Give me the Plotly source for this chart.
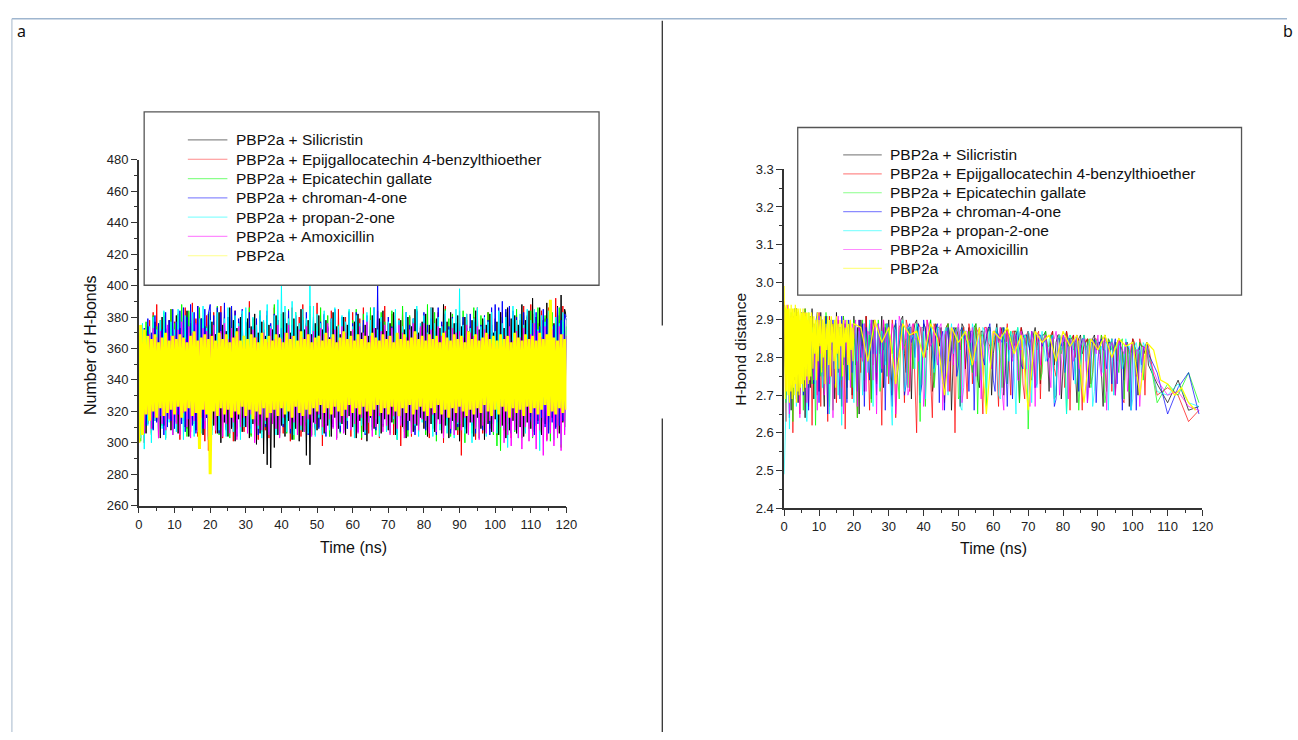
import plotly.graph_objects as go

W, H = 1298, 740
FONT = "Liberation Sans, Arial, sans-serif"


def X(px):
    return px / W


def Y(py):
    return 1 - py / H


# ---------------- data ----------------
series_names = [
    "PBP2a + Silicristin",
    "PBP2a + Epijgallocatechin 4-benzylthioether",
    "PBP2a + Epicatechin gallate",
    "PBP2a + chroman-4-one",
    "PBP2a + propan-2-one",
    "PBP2a + Amoxicillin",
    "PBP2a",
]
series_colors = ["#000000", "#ff0000", "#00ff00", "#0000ff", "#00ffff", "#ff00ff", "#ffff00"]

# panel a : number of H-bonds vs time (ns), sampled every 0.5 ns
time_a = [i * 0.5 for i in range(241)]

hbonds_silicristin = [
    304, 370, 312, 361, 306, 374, 318, 366, 309, 377, 314, 369, 303, 380, 311, 372, 317, 378, 308, 365,
    313, 381, 306, 373, 319, 368, 310, 384, 304, 376, 315, 370, 308, 387, 312, 379, 305, 374, 316, 382,
    302, 377, 311, 369, 306, 383, 300, 375, 313, 371, 304, 386, 309, 378, 301, 373, 315, 380, 307, 367,
    310, 379, 303, 374, 312, 382, 299, 370, 306, 377, 293, 368, 286, 375, 284, 372, 297, 381, 305, 369,
    311, 383, 304, 376, 314, 370, 302, 379, 309, 374, 301, 385, 307, 372, 292, 378, 286, 369, 313, 376,
    308, 381, 315, 372, 306, 378, 311, 367, 304, 383, 316, 374, 309, 369, 312, 380, 305, 375, 317, 371,
    310, 377, 303, 382, 314, 370, 307, 375, 301, 368, 316, 381, 309, 373, 312, 379, 306, 384, 315, 371,
    308, 376, 313, 383, 305, 369, 317, 378, 310, 372, 303, 380, 314, 374, 307, 385, 311, 370, 316, 377,
    309, 382, 304, 375, 312, 386, 307, 379, 315, 373, 306, 388, 311, 377, 303, 383, 314, 376, 308, 381,
    301, 374, 310, 380, 306, 371, 313, 378, 304, 384, 316, 372, 309, 379, 302, 375, 312, 382, 307, 370,
    315, 377, 305, 383, 311, 373, 303, 386, 308, 379, 314, 381, 306, 375, 310, 388, 304, 378, 313, 384,
    309, 392, 307, 380, 314, 386, 305, 378, 312, 389, 308, 383, 316, 376, 310, 387, 306, 394, 313, 385,
    380,
]
hbonds_epigallo = [
    356, 309, 366, 300, 371, 312, 378, 306, 383, 314, 388, 303, 376, 311, 381, 308, 373, 316, 385, 305,
    377, 313, 382, 302, 370, 318, 386, 309, 374, 307, 389, 312, 379, 304, 384, 310, 372, 301, 381, 295,
    375, 312, 383, 306, 378, 315, 387, 303, 371, 310, 380, 316, 374, 301, 384, 309, 377, 313, 382, 307,
    373, 318, 390, 305, 379, 311, 367, 302, 384, 314, 376, 308, 381, 303, 370, 315, 386, 309, 378, 312,
    372, 306, 383, 313, 377, 301, 386, 310, 374, 316, 380, 304, 388, 311, 375, 307, 382, 317, 371, 305,
    389, 310, 376, 298, 381, 314, 373, 307, 384, 312, 378, 303, 385, 316, 370, 308, 380, 311, 375, 304,
    383, 315, 372, 309, 379, 302, 386, 313, 374, 306, 381, 317, 377, 310, 384, 303, 371, 312, 387, 308,
    376, 314, 382, 305, 373, 311, 379, 298, 385, 309, 372, 316, 380, 304, 377, 312, 383, 307, 369, 315,
    381, 310, 374, 303, 386, 313, 378, 306, 383, 317, 375, 300, 387, 311, 372, 308, 380, 314, 376, 305,
    384, 292, 377, 312, 382, 307, 374, 315, 380, 302, 386, 310, 371, 306, 378, 313, 383, 309, 375, 316,
    379, 305, 366, 311, 383, 308, 372, 314, 385, 303, 377, 310, 381, 306, 374, 316, 387, 309, 380, 312,
    388, 304, 382, 311, 376, 307, 384, 315, 379, 302, 386, 313, 373, 309, 392, 306, 381, 314, 387, 310,
    379,
]
hbonds_epicatechin = [
    366, 301, 372, 309, 377, 313, 369, 305, 381, 316, 374, 307, 378, 311, 383, 303, 370, 317, 385, 306,
    376, 321, 382, 309, 388, 314, 373, 304, 384, 312, 378, 318, 371, 307, 386, 310, 379, 315, 374, 302,
    383, 308, 377, 316, 387, 305, 372, 313, 380, 309, 375, 303, 385, 317, 378, 311, 373, 306, 382, 314,
    376, 310, 386, 304, 379, 312, 371, 318, 384, 307, 377, 313, 381, 305, 374, 316, 388, 309, 373, 304,
    382, 311, 375, 306, 385, 314, 378, 302, 383, 309, 372, 316, 380, 307, 376, 312, 387, 305, 379, 310,
    374, 315, 386, 308, 371, 313, 381, 304, 377, 317, 383, 310, 375, 306, 380, 314, 372, 309, 384, 312,
    378, 307, 385, 316, 373, 303, 382, 311, 376, 314, 386, 308, 379, 305, 374, 313, 383, 310, 377, 316,
    371, 306, 384, 312, 378, 302, 375, 315, 387, 309, 372, 304, 381, 313, 376, 308, 385, 311, 373, 317,
    380, 305, 388, 313, 374, 309, 383, 301, 377, 316, 372, 307, 385, 312, 379, 304, 382, 314, 376, 308,
    373, 311, 384, 300, 378, 315, 372, 306, 386, 310, 375, 303, 381, 313, 374, 307, 383, 312, 371, 305,
    377, 298, 372, 295, 380, 309, 383, 305, 374, 313, 378, 307, 385, 311, 372, 303, 381, 316, 376, 309,
    384, 303, 378, 312, 386, 306, 373, 314, 381, 308, 375, 301, 383, 312, 379, 305, 386, 297, 377, 310,
    374,
]
hbonds_chromanone = [
    362, 368, 306, 373, 311, 379, 315, 370, 308, 381, 313, 376, 317, 372, 305, 383, 310, 378, 314, 385,
    309, 377, 318, 384, 312, 386, 307, 380, 315, 388, 311, 383, 306, 387, 314, 379, 309, 385, 316, 382,
    388, 312, 381, 317, 386, 306, 383, 313, 389, 308, 380, 315, 387, 310, 384, 304, 379, 316, 385, 311,
    377, 315, 383, 309, 374, 313, 379, 305, 381, 318, 372, 310, 384, 307, 376, 314, 382, 311, 378, 306,
    373, 310, 379, 316, 384, 306, 375, 313, 381, 308, 370, 315, 378, 311, 383, 305, 374, 317, 380, 309,
    371, 309, 377, 318, 382, 304, 374, 312, 379, 310, 385, 316, 372, 307, 380, 313, 376, 309, 383, 315,
    376, 314, 383, 307, 370, 312, 378, 305, 381, 316, 374, 310, 386, 308, 400, 313, 377, 311, 372, 317,
    380, 310, 374, 315, 381, 306, 377, 316, 372, 311, 383, 308, 375, 313, 379, 305, 384, 312, 371, 316,
    383, 308, 375, 314, 379, 317, 371, 305, 386, 312, 377, 309, 382, 315, 374, 306, 380, 313, 376, 310,
    376, 318, 380, 309, 373, 315, 382, 311, 377, 306, 384, 313, 375, 308, 381, 316, 378, 305, 386, 312,
    388, 313, 386, 316, 390, 309, 385, 312, 387, 306, 384, 314, 380, 309, 378, 315, 383, 307, 381, 311,
    317, 376, 305, 383, 312, 374, 316, 385, 310, 379, 306, 382, 313, 375, 309, 386, 311, 378, 314, 382,
    378,
]
hbonds_propanone = [
    370, 303, 376, 296, 368, 311, 374, 300, 380, 314, 372, 306, 378, 309, 384, 302, 371, 313, 377, 305,
    372, 307, 385, 312, 376, 302, 381, 315, 370, 309, 383, 304, 375, 311, 379, 306, 387, 314, 373, 308,
    378, 305, 374, 313, 383, 308, 369, 316, 379, 304, 386, 311, 373, 307, 381, 314, 376, 302, 384, 310,
    386, 311, 373, 306, 380, 317, 375, 309, 384, 303, 378, 312, 388, 307, 374, 315, 381, 305, 391, 310,
    401, 312, 387, 307, 379, 314, 390, 305, 383, 311, 376, 308, 385, 313, 379, 306, 400, 310, 387, 304,
    382, 316, 376, 305, 384, 312, 371, 308, 379, 315, 386, 303, 374, 311, 381, 307, 377, 314, 385, 309,
    374, 303, 381, 317, 376, 311, 369, 306, 383, 313, 378, 308, 386, 315, 372, 304, 380, 312, 375, 307,
    377, 309, 372, 315, 385, 302, 378, 312, 374, 307, 383, 314, 371, 306, 379, 311, 387, 304, 376, 313,
    381, 316, 370, 310, 386, 304, 376, 313, 380, 308, 374, 315, 384, 306, 372, 311, 379, 303, 385, 312,
    398, 312, 375, 306, 382, 315, 373, 300, 379, 311, 386, 307, 374, 313, 380, 304, 377, 316, 383, 309,
    371, 306, 384, 314, 376, 309, 380, 297, 373, 315, 387, 308, 378, 303, 382, 312, 375, 306, 385, 311,
    378, 304, 385, 311, 372, 295, 381, 313, 377, 306, 384, 310, 374, 302, 380, 315, 376, 299, 383, 308,
    379,
]
hbonds_amoxicillin = [
    352, 314, 364, 306, 360, 318, 369, 309, 373, 316, 367, 303, 371, 312, 362, 308, 375, 315, 368, 305,
    368, 312, 372, 305, 377, 319, 366, 310, 374, 303, 370, 314, 376, 307, 365, 316, 373, 309, 371, 304,
    369, 315, 375, 308, 363, 317, 371, 304, 376, 312, 366, 306, 373, 313, 368, 302, 374, 310, 361, 316,
    359, 306, 355, 318, 372, 300, 367, 311, 358, 308, 370, 314, 364, 305, 373, 312, 366, 309, 375, 303,
    366, 316, 370, 352, 375, 309, 368, 313, 356, 305, 372, 311, 367, 307, 374, 315, 369, 304, 371, 312,
    364, 318, 373, 310, 369, 307, 376, 315, 367, 309, 372, 302, 365, 313, 374, 306, 370, 316, 366, 308,
    372, 312, 366, 306, 374, 316, 370, 308, 377, 313, 368, 304, 373, 310, 365, 317, 371, 307, 375, 311,
    368, 305, 373, 317, 365, 309, 375, 311, 370, 303, 367, 314, 372, 306, 376, 312, 369, 308, 374, 315,
    376, 314, 369, 306, 372, 318, 366, 307, 374, 312, 368, 303, 371, 316, 365, 309, 373, 305, 370, 313,
    371, 308, 367, 316, 375, 305, 370, 313, 368, 309, 374, 302, 366, 311, 372, 306, 369, 314, 363, 307,
    360, 350, 355, 310, 358, 300, 368, 305, 374, 298, 365, 308, 371, 303, 367, 296, 373, 310, 366, 301,
    369, 304, 376, 296, 371, 308, 367, 292, 374, 301, 368, 306, 372, 298, 365, 303, 374, 295, 369, 305,
    368,
]
hbonds_pbp2a = [
    300, 375, 305, 372, 318, 368, 314, 366, 320, 369, 316, 364, 322, 367, 317, 370, 319, 365, 321, 368,
    318, 366, 323, 369, 316, 367, 320, 364, 322, 368, 317, 371, 319, 365, 296, 367, 321, 369, 318, 366,
    280, 368, 320, 365, 317, 370, 322, 366, 318, 369, 321, 364, 316, 367, 320, 371, 318, 365, 323, 368,
    317, 366, 321, 369, 315, 367, 320, 364, 318, 370, 322, 366, 316, 368, 319, 365, 321, 369, 317, 367,
    322, 364, 318, 370, 320, 366, 316, 368, 323, 365, 319, 371, 317, 366, 321, 369, 318, 364, 322, 367,
    320, 368, 324, 365, 319, 370, 322, 366, 318, 369, 323, 364, 320, 367, 317, 371, 321, 366, 324, 368,
    319, 365, 322, 369, 318, 366, 323, 368, 320, 364, 317, 370, 321, 367, 324, 365, 319, 369, 322, 366,
    318, 368, 323, 364, 320, 370, 317, 366, 322, 369, 319, 365, 324, 367, 318, 371, 321, 366, 323, 368,
    320, 365, 317, 369, 322, 366, 319, 368, 324, 364, 318, 370, 321, 367, 316, 365, 322, 369, 319, 366,
    323, 368, 320, 364, 317, 371, 321, 366, 318, 369, 322, 365, 319, 367, 324, 370, 320, 366, 317, 368,
    321, 365, 318, 369, 323, 366, 320, 368, 316, 364, 322, 370, 319, 367, 321, 365, 317, 369, 323, 366,
    319, 368, 322, 365, 318, 370, 321, 366, 324, 369, 317, 391, 320, 367, 318, 365, 322, 369, 319, 366,
    321,
]

# panel b : H-bond distance vs time (ns)
# each complex: 61 values (0-30 ns, every 0.5 ns), 74 values (31-104 ns, whole ns),
# 5 tail values (107, 110, 113, 116, 119 ns); plus 74 values at the half ns 31.5-104.5
time_b = ([i * 0.5 for i in range(61)] + [31 + 0.5 * i for i in range(148)]
          + [107, 110, 113, 116, 119])
time_b_pbp2a = ([round(i * 0.1, 1) for i in range(81)]
                + [8.25 + 0.25 * i for i in range(48)]
                + [22 + 2 * i for i in range(49)])

dist_silicristin = [
    2.94, 2.70, 2.92, 2.78, 2.66, 2.91, 2.74, 2.93, 2.68, 2.88,
    2.75, 2.92, 2.64, 2.90, 2.80, 2.72, 2.93, 2.69, 2.89, 2.84,
    2.71, 2.92, 2.77, 2.67, 2.91, 2.82, 2.73, 2.90, 2.85, 2.69,
    2.92, 2.76, 2.88, 2.67, 2.91, 2.81, 2.72, 2.89, 2.86, 2.70,
    2.91, 2.78, 2.88, 2.65, 2.90, 2.83, 2.74, 2.91, 2.79, 2.87,
    2.69, 2.90, 2.84, 2.73, 2.89, 2.81, 2.91, 2.72, 2.88, 2.85,
    2.90,
    2.70, 2.89, 2.83, 2.91, 2.76, 2.88, 2.86, 2.90, 2.68, 2.89,
    2.82, 2.90, 2.74, 2.87, 2.88, 2.80, 2.89, 2.66, 2.88, 2.86,
    2.89, 2.77, 2.88, 2.84, 2.89, 2.72, 2.87, 2.85, 2.88, 2.81,
    2.89, 2.86, 2.70, 2.88, 2.84, 2.87, 2.79, 2.88, 2.85, 2.87,
    2.74, 2.88, 2.83, 2.86, 2.87, 2.71, 2.87, 2.84, 2.86, 2.78,
    2.87, 2.85, 2.86, 2.68, 2.86, 2.83, 2.85, 2.80, 2.86, 2.84,
    2.76, 2.86, 2.83, 2.85, 2.70, 2.85, 2.82, 2.84, 2.67, 2.85,
    2.79, 2.84, 2.83, 2.84,
    2.73, 2.68, 2.74, 2.66, 2.67,
]
dist_silicristin_half = [
    2.88, 2.75, 2.90, 2.81, 2.87, 2.69, 2.89, 2.84, 2.78, 2.88,
    2.85, 2.71, 2.89, 2.83, 2.76, 2.88, 2.86, 2.80, 2.87, 2.67,
    2.88, 2.84, 2.79, 2.88, 2.74, 2.87, 2.83, 2.88, 2.70, 2.86,
    2.84, 2.88, 2.77, 2.86, 2.82, 2.87, 2.68, 2.86, 2.83, 2.80,
    2.86, 2.84, 2.73, 2.86, 2.82, 2.85, 2.78, 2.86, 2.69, 2.85,
    2.83, 2.85, 2.76, 2.85, 2.81, 2.84, 2.72, 2.85, 2.82, 2.84,
    2.67, 2.84, 2.82, 2.79, 2.84, 2.83, 2.74, 2.84, 2.81, 2.83,
    2.70, 2.83, 2.81, 2.78,
]
dist_epigallo = [
    2.95, 2.63, 2.93, 2.72, 2.91, 2.60, 2.88, 2.77, 2.92, 2.65,
    2.90, 2.81, 2.93, 2.74, 2.67, 2.91, 2.62, 2.89, 2.81, 2.70,
    2.92, 2.67, 2.90, 2.78, 2.85, 2.63, 2.91, 2.75, 2.89, 2.80,
    2.68, 2.90, 2.83, 2.72, 2.91, 2.61, 2.88, 2.79, 2.90, 2.69,
    2.87, 2.83, 2.64, 2.90, 2.76, 2.89, 2.71, 2.91, 2.82, 2.66,
    2.89, 2.78, 2.90, 2.73, 2.88, 2.84, 2.62, 2.90, 2.79, 2.89,
    2.73,
    2.90, 2.64, 2.88, 2.84, 2.90, 2.71, 2.89, 2.60, 2.88, 2.82,
    2.90, 2.75, 2.89, 2.85, 2.87, 2.68, 2.89, 2.83, 2.60, 2.88,
    2.87, 2.80, 2.89, 2.73, 2.88, 2.86, 2.65, 2.88, 2.83, 2.87,
    2.76, 2.88, 2.85, 2.89, 2.70, 2.87, 2.84, 2.88, 2.69, 2.87,
    2.85, 2.72, 2.87, 2.84, 2.86, 2.80, 2.87, 2.75, 2.86, 2.83,
    2.87, 2.66, 2.86, 2.84, 2.79, 2.86, 2.85, 2.73, 2.85, 2.82,
    2.86, 2.78, 2.85, 2.71, 2.84, 2.85, 2.69, 2.84, 2.81, 2.85,
    2.75, 2.85, 2.83, 2.84,
    2.70, 2.72, 2.70, 2.63, 2.66,
]
dist_epigallo_half = [
    2.86, 2.79, 2.89, 2.68, 2.88, 2.83, 2.74, 2.89, 2.85, 2.80,
    2.88, 2.64, 2.87, 2.84, 2.78, 2.88, 2.71, 2.87, 2.85, 2.82,
    2.88, 2.69, 2.86, 2.83, 2.87, 2.76, 2.88, 2.84, 2.80, 2.87,
    2.67, 2.86, 2.84, 2.78, 2.87, 2.82, 2.86, 2.73, 2.86, 2.84,
    2.79, 2.86, 2.69, 2.85, 2.83, 2.86, 2.77, 2.85, 2.82, 2.72,
    2.85, 2.84, 2.80, 2.85, 2.66, 2.84, 2.83, 2.76, 2.85, 2.82,
    2.84, 2.71, 2.84, 2.82, 2.79, 2.84, 2.68, 2.83, 2.82, 2.84,
    2.77, 2.83, 2.70, 2.83,
]
dist_epicatechin = [
    2.93, 2.68, 2.91, 2.76, 2.92, 2.63, 2.89, 2.81, 2.92, 2.70,
    2.86, 2.66, 2.93, 2.79, 2.72, 2.91, 2.73, 2.89, 2.62, 2.91,
    2.83, 2.75, 2.90, 2.71, 2.92, 2.79, 2.67, 2.89, 2.66, 2.90,
    2.84, 2.77, 2.88, 2.74, 2.91, 2.81, 2.69, 2.89, 2.85, 2.72,
    2.90, 2.78, 2.64, 2.88, 2.83, 2.90, 2.74, 2.87, 2.80, 2.89,
    2.68, 2.88, 2.84, 2.76, 2.90, 2.71, 2.87, 2.82, 2.89, 2.75,
    2.88,
    2.81, 2.89, 2.69, 2.90, 2.85, 2.88, 2.77, 2.89, 2.63, 2.88,
    2.84, 2.90, 2.72, 2.88, 2.86, 2.79, 2.89, 2.84, 2.87, 2.69,
    2.88, 2.85, 2.87, 2.76, 2.89, 2.83, 2.86, 2.67, 2.88, 2.84,
    2.87, 2.80, 2.88, 2.73, 2.87, 2.85, 2.88, 2.78, 2.86, 2.61,
    2.87, 2.84, 2.86, 2.76, 2.87, 2.83, 2.85, 2.70, 2.86, 2.84,
    2.65, 2.86, 2.82, 2.85, 2.77, 2.86, 2.84, 2.72, 2.85, 2.83,
    2.86, 2.68, 2.85, 2.82, 2.84, 2.76, 2.85, 2.83, 2.71, 2.84,
    2.82, 2.84, 2.74, 2.83,
    2.68, 2.73, 2.70, 2.76, 2.68,
]
dist_epicatechin_half = [
    2.87, 2.76, 2.89, 2.83, 2.72, 2.88, 2.85, 2.80, 2.88, 2.67,
    2.87, 2.84, 2.78, 2.88, 2.74, 2.87, 2.85, 2.81, 2.88, 2.70,
    2.86, 2.84, 2.79, 2.87, 2.65, 2.86, 2.83, 2.87, 2.77, 2.86,
    2.84, 2.72, 2.86, 2.83, 2.80, 2.86, 2.68, 2.85, 2.84, 2.78,
    2.86, 2.82, 2.74, 2.85, 2.83, 2.86, 2.69, 2.85, 2.81, 2.84,
    2.77, 2.85, 2.83, 2.66, 2.84, 2.82, 2.85, 2.75, 2.84, 2.81,
    2.83, 2.72, 2.84, 2.82, 2.79, 2.84, 2.69, 2.83, 2.81, 2.83,
    2.76, 2.83, 2.80, 2.82,
]
dist_chromanone = [
    2.94, 2.74, 2.92, 2.64, 2.90, 2.83, 2.93, 2.69, 2.88, 2.79,
    2.92, 2.70, 2.85, 2.90, 2.66, 2.91, 2.80, 2.73, 2.89, 2.92,
    2.68, 2.90, 2.86, 2.75, 2.91, 2.65, 2.89, 2.82, 2.90, 2.73,
    2.88, 2.86, 2.69, 2.91, 2.78, 2.89, 2.68, 2.90, 2.82, 2.76,
    2.88, 2.86, 2.71, 2.90, 2.80, 2.89, 2.67, 2.88, 2.84, 2.74,
    2.90, 2.81, 2.87, 2.70, 2.89, 2.85, 2.76, 2.88, 2.66, 2.89,
    2.82,
    2.67, 2.90, 2.81, 2.88, 2.73, 2.89, 2.86, 2.87, 2.70, 2.90,
    2.83, 2.88, 2.77, 2.89, 2.85, 2.66, 2.88, 2.82, 2.87, 2.78,
    2.88, 2.86, 2.71, 2.87, 2.84, 2.88, 2.80, 2.86, 2.89, 2.74,
    2.87, 2.85, 2.88, 2.67, 2.86, 2.83, 2.87, 2.78, 2.86, 2.84,
    2.87, 2.72, 2.86, 2.83, 2.85, 2.80, 2.86, 2.69, 2.85, 2.86,
    2.81, 2.85, 2.74, 2.86, 2.83, 2.85, 2.68, 2.84, 2.85, 2.79,
    2.85, 2.82, 2.84, 2.73, 2.85, 2.83, 2.66, 2.84, 2.82, 2.84,
    2.66, 2.83, 2.82, 2.84,
    2.76, 2.65, 2.72, 2.76, 2.65,
]
dist_chromanone_half = [
    2.85, 2.78, 2.89, 2.70, 2.88, 2.84, 2.80, 2.89, 2.73, 2.87,
    2.86, 2.82, 2.88, 2.68, 2.87, 2.84, 2.79, 2.88, 2.75, 2.87,
    2.85, 2.81, 2.87, 2.66, 2.86, 2.84, 2.78, 2.87, 2.83, 2.71,
    2.86, 2.84, 2.80, 2.86, 2.69, 2.86, 2.83, 2.77, 2.86, 2.82,
    2.85, 2.73, 2.86, 2.84, 2.79, 2.85, 2.67, 2.85, 2.83, 2.76,
    2.85, 2.82, 2.84, 2.71, 2.85, 2.83, 2.79, 2.84, 2.68, 2.84,
    2.82, 2.77, 2.84, 2.83, 2.73, 2.84, 2.81, 2.83, 2.66, 2.83,
    2.82, 2.78, 2.83, 2.81,
]
dist_propanone = [
    2.49, 2.66, 2.93, 2.61, 2.91, 2.77, 2.92, 2.67, 2.86, 2.90,
    2.82, 2.71, 2.91, 2.63, 2.92, 2.76, 2.88, 2.84, 2.69, 2.89,
    2.91, 2.80, 2.72, 2.89, 2.85, 2.91, 2.65, 2.90, 2.82, 2.77,
    2.89, 2.70, 2.88, 2.62, 2.87, 2.84, 2.90, 2.74, 2.88, 2.86,
    2.68, 2.89, 2.79, 2.87, 2.82, 2.70, 2.89, 2.83, 2.76, 2.90,
    2.85, 2.67, 2.88, 2.81, 2.89, 2.72, 2.87, 2.86, 2.78, 2.89,
    2.80,
    2.62, 2.87, 2.84, 2.90, 2.74, 2.88, 2.86, 2.89, 2.68, 2.87,
    2.82, 2.89, 2.76, 2.88, 2.85, 2.87, 2.70, 2.89, 2.83, 2.88,
    2.66, 2.87, 2.84, 2.89, 2.79, 2.86, 2.88, 2.72, 2.87, 2.85,
    2.88, 2.69, 2.86, 2.84, 2.87, 2.77, 2.88, 2.82, 2.86, 2.87,
    2.68, 2.86, 2.84, 2.87, 2.79, 2.85, 2.86, 2.73, 2.86, 2.83,
    2.65, 2.86, 2.84, 2.85, 2.78, 2.86, 2.83, 2.85, 2.71, 2.85,
    2.83, 2.84, 2.66, 2.85, 2.82, 2.84, 2.77, 2.85, 2.83, 2.69,
    2.84, 2.82, 2.84, 2.83,
    2.71, 2.70, 2.73, 2.68, 2.67,
]
dist_propanone_half = [
    2.88, 2.80, 2.89, 2.71, 2.88, 2.85, 2.77, 2.88, 2.83, 2.69,
    2.88, 2.86, 2.80, 2.87, 2.73, 2.88, 2.84, 2.81, 2.87, 2.67,
    2.87, 2.85, 2.78, 2.87, 2.83, 2.74, 2.87, 2.84, 2.80, 2.86,
    2.70, 2.86, 2.84, 2.79, 2.86, 2.65, 2.86, 2.83, 2.77, 2.86,
    2.84, 2.72, 2.85, 2.83, 2.80, 2.85, 2.68, 2.85, 2.82, 2.77,
    2.85, 2.83, 2.73, 2.84, 2.82, 2.79, 2.84, 2.67, 2.84, 2.82,
    2.76, 2.84, 2.83, 2.70, 2.83, 2.81, 2.79, 2.83, 2.66, 2.83,
    2.81, 2.76, 2.83, 2.80,
]
dist_amoxicillin = [
    2.92, 2.72, 2.94, 2.65, 2.91, 2.80, 2.87, 2.71, 2.92, 2.64,
    2.90, 2.79, 2.92, 2.68, 2.85, 2.90, 2.83, 2.74, 2.89, 2.66,
    2.91, 2.81, 2.90, 2.70, 2.88, 2.86, 2.73, 2.90, 2.64, 2.88,
    2.83, 2.91, 2.75, 2.89, 2.65, 2.90, 2.82, 2.88, 2.72, 2.89,
    2.85, 2.90, 2.67, 2.88, 2.83, 2.79, 2.89, 2.71, 2.87, 2.86,
    2.90, 2.74, 2.88, 2.65, 2.89, 2.82, 2.77, 2.90, 2.84, 2.88,
    2.75,
    2.89, 2.65, 2.91, 2.82, 2.88, 2.72, 2.89, 2.85, 2.88, 2.67,
    2.90, 2.83, 2.88, 2.78, 2.89, 2.86, 2.71, 2.88, 2.84, 2.89,
    2.68, 2.87, 2.85, 2.88, 2.75, 2.87, 2.84, 2.88, 2.79, 2.87,
    2.86, 2.88, 2.66, 2.87, 2.84, 2.86, 2.74, 2.87, 2.85, 2.80,
    2.87, 2.67, 2.86, 2.84, 2.86, 2.77, 2.85, 2.87, 2.70, 2.86,
    2.84, 2.85, 2.79, 2.86, 2.83, 2.85, 2.68, 2.85, 2.84, 2.86,
    2.75, 2.85, 2.83, 2.84, 2.70, 2.85, 2.82, 2.84, 2.78, 2.84,
    2.82, 2.67, 2.83, 2.83,
    2.74, 2.70, 2.71, 2.67, 2.66,
]
dist_amoxicillin_half = [
    2.87, 2.77, 2.89, 2.84, 2.70, 2.88, 2.85, 2.79, 2.88, 2.73,
    2.87, 2.84, 2.81, 2.88, 2.66, 2.87, 2.85, 2.78, 2.87, 2.83,
    2.72, 2.87, 2.84, 2.80, 2.86, 2.69, 2.86, 2.83, 2.77, 2.86,
    2.84, 2.71, 2.86, 2.82, 2.79, 2.86, 2.74, 2.85, 2.83, 2.67,
    2.85, 2.84, 2.78, 2.85, 2.82, 2.72, 2.85, 2.83, 2.80, 2.85,
    2.69, 2.84, 2.82, 2.77, 2.84, 2.83, 2.73, 2.84, 2.81, 2.78,
    2.84, 2.66, 2.83, 2.82, 2.76, 2.83, 2.81, 2.71, 2.83, 2.80,
    2.82, 2.75, 2.82, 2.80,
]
dist_pbp2a = [
    2.99, 2.72, 2.94, 2.69, 2.93, 2.74, 2.94, 2.71, 2.92, 2.76,
    2.93, 2.70, 2.94, 2.73, 2.92, 2.68, 2.93, 2.75, 2.91, 2.71,
    2.94, 2.74, 2.92, 2.69, 2.93, 2.77, 2.91, 2.72, 2.93, 2.70,
    2.92, 2.75, 2.94, 2.73, 2.91, 2.68, 2.93, 2.76, 2.92, 2.71,
    2.93, 2.74, 2.91, 2.70, 2.92, 2.77, 2.93, 2.72, 2.91, 2.75,
    2.92, 2.73, 2.91, 2.76, 2.93, 2.71, 2.92, 2.78, 2.90, 2.74,
    2.92, 2.72, 2.91, 2.77, 2.92, 2.75, 2.90, 2.79, 2.92, 2.73,
    2.91, 2.76, 2.92, 2.74, 2.90, 2.78, 2.91, 2.75, 2.92, 2.80,
    2.90,
    2.77, 2.91, 2.81, 2.90, 2.74, 2.92, 2.79, 2.90, 2.83, 2.91,
    2.76, 2.90, 2.80, 2.91, 2.73, 2.89, 2.82, 2.91, 2.78, 2.90,
    2.75, 2.91, 2.84, 2.89, 2.79, 2.90, 2.72, 2.91, 2.81, 2.89,
    2.77, 2.90, 2.83, 2.89, 2.75, 2.90, 2.80, 2.88, 2.84, 2.90,
    2.78, 2.89, 2.74, 2.90, 2.82, 2.88, 2.79, 2.89,
    2.88, 2.79, 2.90, 2.84, 2.88, 2.73, 2.89, 2.86, 2.87, 2.80,
    2.89, 2.85, 2.70, 2.88, 2.84, 2.87, 2.78, 2.88, 2.65, 2.87,
    2.85, 2.88, 2.81, 2.86, 2.66, 2.87, 2.84, 2.86, 2.79, 2.87,
    2.83, 2.86, 2.68, 2.85, 2.82, 2.86, 2.80, 2.85, 2.83, 2.84,
    2.70, 2.84, 2.82, 2.74, 2.73, 2.70, 2.72, 2.68, 2.66,
]


def merge_half(main, half):
    """Put the half-ns readings between the whole-ns readings of 31-104 ns."""
    late = []
    for a, b in zip(main[61:135], half):
        late += [a, b]
    return main[:61] + late + main[135:]


panel_a_values = [hbonds_silicristin, hbonds_epigallo, hbonds_epicatechin,
                  hbonds_chromanone, hbonds_propanone, hbonds_amoxicillin, hbonds_pbp2a]
panel_b_values = [
    merge_half(dist_silicristin, dist_silicristin_half),
    merge_half(dist_epigallo, dist_epigallo_half),
    merge_half(dist_epicatechin, dist_epicatechin_half),
    merge_half(dist_chromanone, dist_chromanone_half),
    merge_half(dist_propanone, dist_propanone_half),
    merge_half(dist_amoxicillin, dist_amoxicillin_half),
    dist_pbp2a,
]
panel_b_times = [time_b] * 6 + [time_b_pbp2a]

# ---------------- figure ----------------
fig = go.Figure()

for name, col, v in zip(series_names, series_colors, panel_a_values):
    fig.add_trace(go.Scatter(
        x=time_a, y=v, mode="lines", name=name, showlegend=False,
        line=dict(color=col, width=3.0 if col == "#ffff00" else 1.0),
        xaxis="x", yaxis="y", hoverinfo="skip",
    ))

for name, col, t, v in zip(series_names, series_colors, panel_b_times, panel_b_values):
    fig.add_trace(go.Scatter(
        x=t, y=v, mode="lines", name=name, showlegend=False,
        line=dict(color=col, width=1.2 if col == "#ffff00" else 0.7),
        xaxis="x2", yaxis="y2", hoverinfo="skip",
    ))

axis_common = dict(
    showline=True, linecolor="#333333", linewidth=1.5,
    ticks="outside", ticklen=6, tickwidth=1.3, tickcolor="#333333",
    showgrid=False, zeroline=False, fixedrange=True,
    tickfont=dict(family=FONT, size=13, color="#222222"),
)
minor_common = dict(ticks="outside", ticklen=3.5, tickwidth=1.2, tickcolor="#333333", showgrid=False)

fig.update_layout(
    width=W, height=H, autosize=False,
    margin=dict(l=0, r=0, t=0, b=0),
    paper_bgcolor="white", plot_bgcolor="white",
    showlegend=False,
    xaxis=dict(domain=[X(136.5), X(569)], range=[0, 120], tick0=0, dtick=10, anchor="y",
               minor=dict(dtick=5, **minor_common), **axis_common),
    yaxis=dict(domain=[Y(509), Y(156)], range=[260, 480], tick0=260, dtick=20, anchor="x",
               minor=dict(dtick=10, **minor_common), **axis_common),
    xaxis2=dict(domain=[X(789.3), X(1212.5)], range=[0, 120], tick0=0, dtick=10, anchor="y2",
                minor=dict(dtick=5, **minor_common), **axis_common),
    yaxis2=dict(domain=[Y(511.5), Y(165.7)], range=[2.4, 3.3], tick0=2.4, dtick=0.1, tickformat=".1f",
                anchor="x2", minor=dict(dtick=0.05, **minor_common), **axis_common),
)

shapes = [
    # legend frames (cover the data underneath)
    dict(type="rect", xref="paper", yref="paper", x0=X(141.8), x1=X(602), y0=Y(284), y1=Y(107),
         fillcolor="white", line=dict(color="#555555", width=1.3), layer="above"),
    dict(type="rect", xref="paper", yref="paper", x0=X(803), x1=X(1252), y0=Y(294), y1=Y(123),
         fillcolor="white", line=dict(color="#555555", width=1.3), layer="above"),
    # document frame
    dict(type="line", xref="paper", yref="paper", x0=X(8), x1=1, y0=Y(12), y1=Y(12),
         line=dict(color="#9fb6cf", width=1.6), layer="above"),
    dict(type="line", xref="paper", yref="paper", x0=X(8), x1=X(8), y0=Y(12), y1=0,
         line=dict(color="#b3c3d4", width=1.2), layer="above"),
    dict(type="line", xref="paper", yref="paper", x0=X(666), x1=X(666), y0=Y(14), y1=Y(325),
         line=dict(color="#333333", width=1.3), layer="above"),
    dict(type="line", xref="paper", yref="paper", x0=X(666), x1=X(666), y0=Y(420), y1=0,
         line=dict(color="#333333", width=1.3), layer="above"),
]

annotations = []
legend_specs = [
    # (sample x0, sample x1, text x, first row y, row step)
    (186, 226, 233, 135.7, 19.7),
    (849, 888, 894, 151.0, 19.3),
]
for (sx0, sx1, tx, y0, dy) in legend_specs:
    for i, (name, col) in enumerate(zip(series_names, series_colors)):
        yy = y0 + dy * i
        shapes.append(dict(type="line", xref="paper", yref="paper", x0=X(sx0), x1=X(sx1),
                           y0=Y(yy), y1=Y(yy), opacity=0.45,
                           line=dict(color=col, width=1.2), layer="above"))
        annotations.append(dict(text=name, x=X(tx), y=Y(yy), xref="paper", yref="paper",
                                xanchor="left", yanchor="middle", showarrow=False,
                                font=dict(family=FONT, size=15.5, color="#111111")))

annotations += [
    dict(text="a", x=X(11), y=Y(25), xref="paper", yref="paper", xanchor="left", yanchor="middle",
         showarrow=False, font=dict(family="Noto Sans, sans-serif", size=16, color="#111111")),
    dict(text="b", x=X(1292), y=Y(25), xref="paper", yref="paper", xanchor="left", yanchor="middle",
         showarrow=False, font=dict(family="Noto Sans, sans-serif", size=16, color="#111111")),
    dict(text="Number of H-bonds", x=X(87), y=Y(345), xref="paper", yref="paper", textangle=-90,
         xanchor="center", yanchor="middle", showarrow=False,
         font=dict(family=FONT, size=16, color="#111111")),
    dict(text="Time (ns)", x=X(354), y=Y(551.5), xref="paper", yref="paper",
         xanchor="center", yanchor="middle", showarrow=False,
         font=dict(family=FONT, size=16, color="#111111")),
    dict(text="H-bond distance", x=X(745), y=Y(349.5), xref="paper", yref="paper", textangle=-90,
         xanchor="center", yanchor="middle", showarrow=False,
         font=dict(family=FONT, size=15.5, color="#111111")),
    dict(text="Time (ns)", x=X(1001), y=Y(552.5), xref="paper", yref="paper",
         xanchor="center", yanchor="middle", showarrow=False,
         font=dict(family=FONT, size=16, color="#111111")),
]

fig.update_layout(shapes=shapes, annotations=annotations)

fig.write_html("out.html", post_script="document.body.style.margin='0px';document.body.style.overflow='hidden';")
